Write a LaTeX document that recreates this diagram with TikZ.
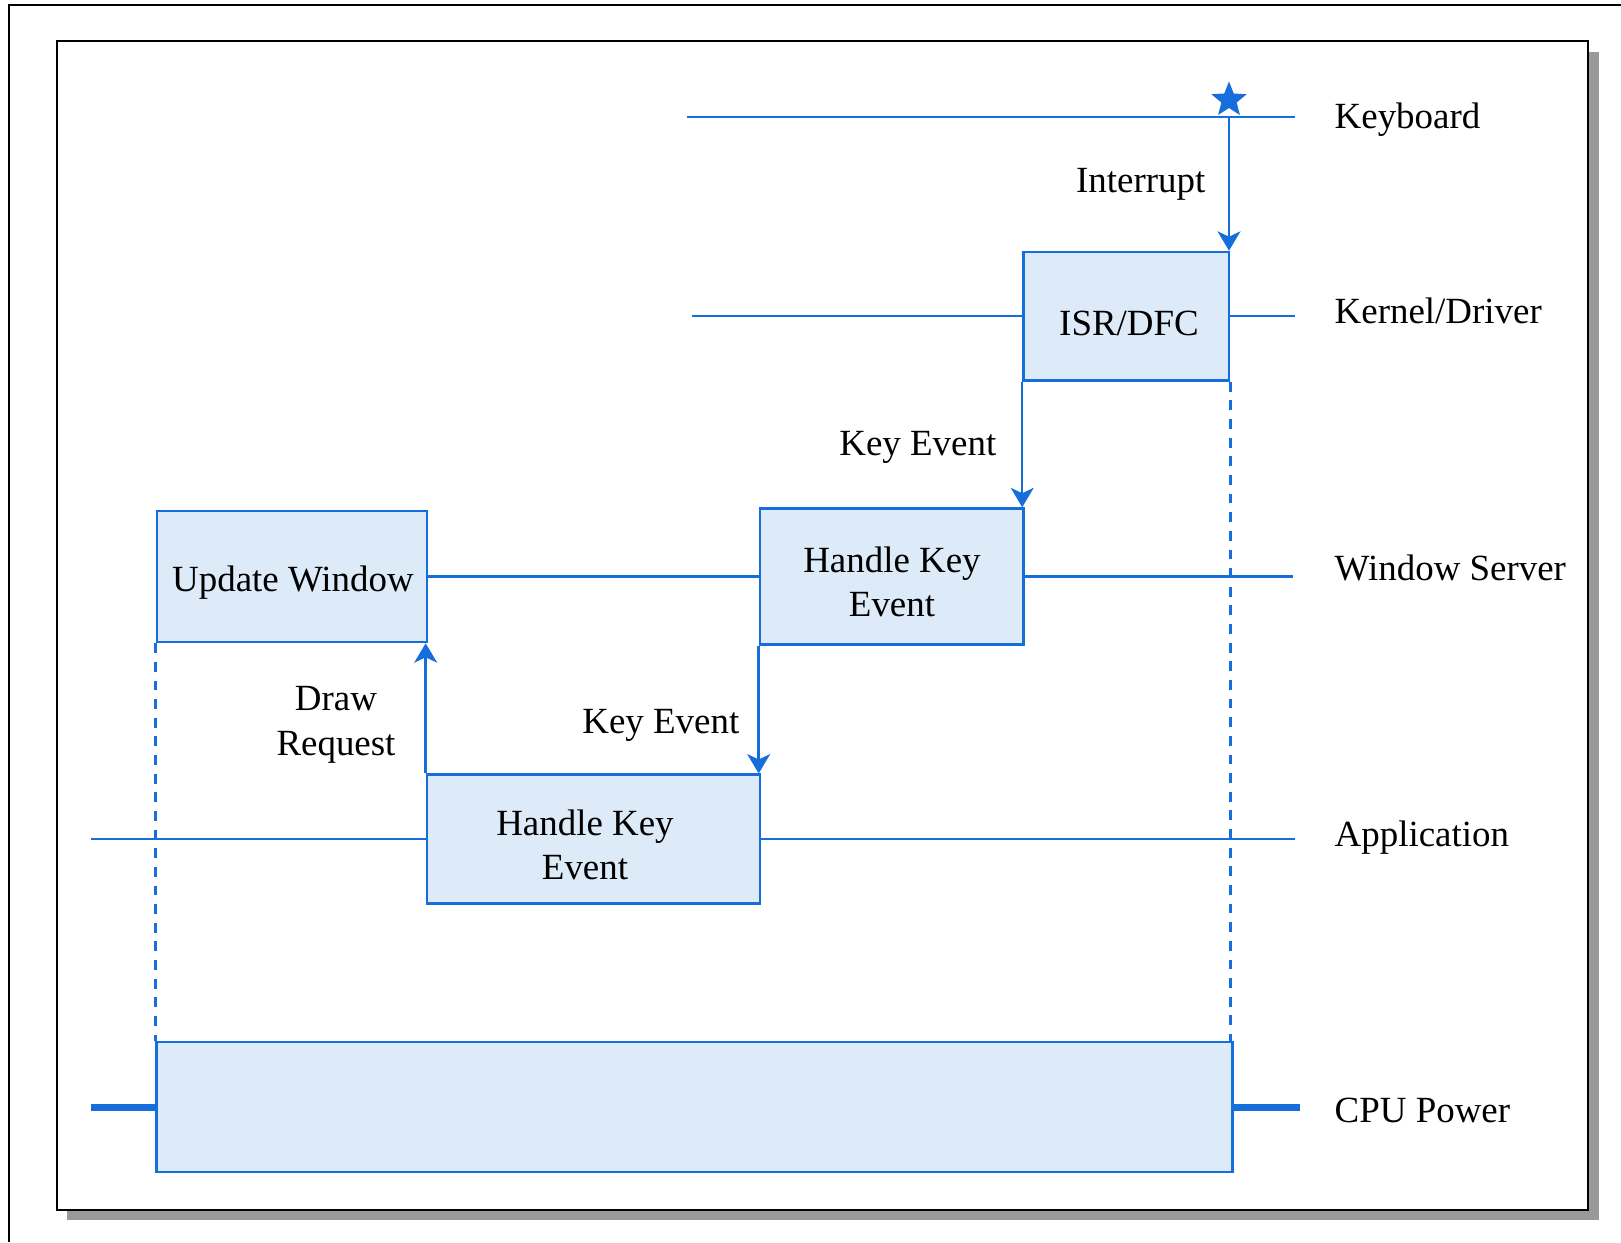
\documentclass[tikz,border=0pt]{standalone}
\usepackage{fontspec}
\setmainfont{Liberation Serif}
\usetikzlibrary{arrows.meta,shapes.geometric}
\definecolor{laneblue}{RGB}{22,110,220}
\definecolor{boxfill}{RGB}{221,234,248}

\begin{document}
\begin{tikzpicture}[x=0.01cm,y=-0.01cm,
    font=\fontsize{10.5}{12.7}\selectfont,
    lane/.style={draw=laneblue,line width=0.7pt},
    box/.style={draw=laneblue,line width=0.7pt,fill=boxfill,inner sep=0pt},
    msg/.style={lane,-{Stealth[length=5.5pt,width=6.5pt,inset=1.5pt]}},
    lbl/.style={align=center,inner sep=0pt}]
  \useasboundingbox (0,0) rectangle (1621,1242);

  % frames
  \fill[black!40] (67,52) rectangle (1599,1220);
  \draw[line width=0.8pt,fill=white] (57,41) rectangle (1588,1210);
  \draw[line width=0.8pt] (9,1242) -- (9,5) -- (1621,5);

  % boxes
  \node[box,minimum width=2.055cm,minimum height=1.285cm] (isr) at (1126.25,316.25) {};
  \node[box,minimum width=2.635cm,minimum height=1.36cm] (wshke) at (891.75,576.5) {};
  \node[box,minimum width=2.70cm,minimum height=1.31cm] (uw) at (292,576.5) {};
  \node[box,minimum width=3.33cm,minimum height=1.285cm] (apphke) at (593.5,839) {};
  \node[box,minimum width=10.75cm,minimum height=1.30cm] (cpu) at (694.5,1107) {};

  \node[lbl] (isrtxt) at (1129,323) {ISR/DFC};
  \node[lbl] (wshketxt) at (892,582) {Handle Key\\Event};
  \node[lbl] (uwtxt) at (293,583) {Update Window};
  \node[lbl] (apphketxt) at (585,845) {Handle Key\\Event};

  % lanes
  \coordinate (kbL) at (687,117);
  \coordinate (kbR) at (1295,117);
  \coordinate (kbhit) at (1229,117);
  \coordinate (krnL) at (692,316.25);
  \coordinate (krnR) at (1295,316.25);
  \coordinate (wsR) at (1293,576.5);
  \coordinate (appL) at (91,839);
  \coordinate (appR) at (1295,839);
  \coordinate (cpuL) at (91,1107);
  \coordinate (cpuR) at (1300,1107);

  \draw[lane] (kbL) -- (kbR);
  \node[star,star points=5,star point ratio=2.3,fill=laneblue,inner sep=0pt,minimum size=0.37cm] (kbstar) at (1229,100) {};
  \draw[lane] (krnL) -- (isr.west);
  \draw[lane] (isr.east) -- (krnR);
  \draw[lane] (uw.east) -- (wshke.west);
  \draw[lane] (wshke.east) -- (wsR);
  \draw[lane] (appL) -- (apphke.west);
  \draw[lane] (apphke.east) -- (appR);
  \draw[lane,line width=2pt] (cpuL) -- (cpu.west);
  \draw[lane,line width=2pt] (cpu.east) -- (cpuR);

  % messages
  \draw[msg] (kbhit) -- (kbhit |- isr.north);
  \draw[msg] (isr.south west) -- (isr.south west |- wshke.north);
  \draw[msg] (wshke.south west) -- (wshke.south west |- apphke.north);
  \draw[msg] (apphke.north west) -- (apphke.north west |- uw.south);
  \draw[lane,dashed,dash pattern=on 2.8pt off 2.5pt] (uw.south west) -- (uw.south west |- cpu.north);
  \draw[lane,dashed,dash pattern=on 2.8pt off 2.5pt] (isr.south east) -- (isr.south east |- cpu.north);

  % message labels
  \node[lbl,anchor=east] (intr) at (1206,184) {Interrupt};
  \node[lbl,anchor=east] (key1) at (997,447.5) {Key Event};
  \node[lbl,anchor=east] (key2) at (740,725.5) {Key Event};
  \node[lbl] (drawreq) at (336,725) {Draw\\Request};

  % lane labels
  \node[lbl,anchor=west] (kb) at (1334,120) {Keyboard};
  \node[lbl,anchor=west] (krn) at (1334,311) {Kernel/Driver};
  \node[lbl,anchor=west] (ws) at (1334,568) {Window Server};
  \node[lbl,anchor=west] (app) at (1334,838) {Application};
  \node[lbl,anchor=west] (cpup) at (1334,1110) {CPU Power};
\end{tikzpicture}
\end{document}
